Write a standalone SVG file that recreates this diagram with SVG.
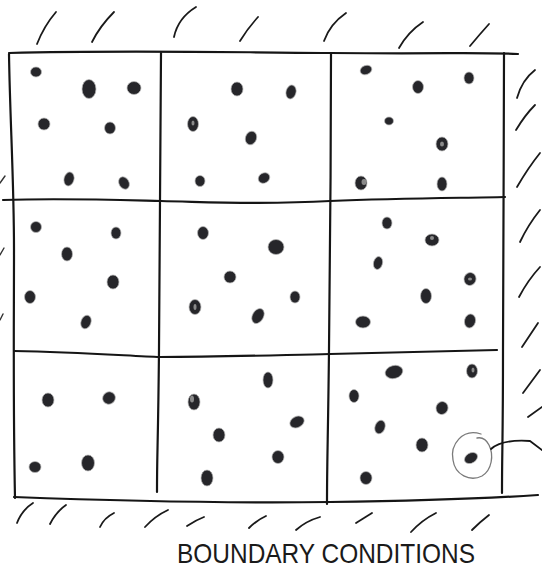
<svg xmlns="http://www.w3.org/2000/svg" width="542" height="568" viewBox="0 0 542 568">
<style>
.ln{fill:none;stroke:#151515;stroke-width:2.2;stroke-linecap:round;stroke-linejoin:round}
.h{fill:none;stroke:#1a1a1a;stroke-width:1.8;stroke-linecap:round}
.hl{fill:none;stroke:#333;stroke-width:1.4;stroke-linecap:round}
.p{fill:#26262a;stroke:#b8b8b8;stroke-width:1;stroke-opacity:.7}
.w{fill:#8a8a8a}
.pen{fill:none;stroke:#7a7a7a;stroke-width:1.3;stroke-linecap:round}
.lbl{font-family:"Liberation Sans",Arial,sans-serif;font-size:28px;fill:#1a1a1a}
</style>
<rect width="542" height="568" fill="#ffffff"/>
<g id="grid">
<path class="ln" d="M9,53 C120,50 200,52 330,53 S470,52 518,54"/>
<path class="ln" d="M9,54 C10,120 14,180 14,250 S13,400 15,498"/>
<path class="ln" d="M3,200 C60,198 120,200 161,201 C210,202 260,205 330,201 C400,198 460,198 505,197"/>
<path class="ln" d="M14,351 C80,352 130,356 160,357 C220,357 280,355 330,354 C400,352 460,351 497,350"/>
<path class="ln" d="M161,53 C161,150 160,250 159,350 S157,450 157,492"/>
<path class="ln" d="M331,54 C331,150 330,260 329,350 S327,460 327,504"/>
<path class="ln" d="M504,53 C504,150 503,260 503,350 S502,450 502,493"/>
<path class="ln" d="M14,497 C120,501 250,503 330,502 S480,499 538,495"/>
</g>
<g id="boundary-hatching">
<path class="h" d="M37,44 Q44,26 56,12"/>
<path class="h" d="M92,42 Q100,26 114,12"/>
<path class="h" d="M174,37 Q178,18 196,7"/>
<path class="h" d="M240,41 Q248,28 258,17"/>
<path class="h" d="M324,41 Q330,24 346,13"/>
<path class="h" d="M399,48 Q408,32 423,22"/>
<path class="h" d="M470,46 Q480,34 489,24"/>
<path class="h" d="M517,98 Q522,80 535,70"/>
<path class="h" d="M516,130 Q525,115 535,105"/>
<path class="h" d="M517,187 Q528,168 540,153"/>
<path class="h" d="M520,242 Q528,225 540,210"/>
<path class="h" d="M519,297 Q528,280 540,267"/>
<path class="h" d="M522,347 L538,323"/>
<path class="h" d="M523,393 L540,370"/>
<path class="h" d="M528,417 L542,407"/>
<path class="hl" d="M0,183 L5,176"/>
<path class="hl" d="M0,255 L4,248"/>
<path class="hl" d="M0,320 L3,314"/>
<path class="h" d="M17,523 Q22,510 33,503"/>
<path class="h" d="M50,524 Q56,512 66,505"/>
<path class="h" d="M100,527 Q104,518 114,513"/>
<path class="h" d="M145,527 Q155,516 168,510"/>
<path class="h" d="M187,526 Q196,520 204,517"/>
<path class="h" d="M249,528 Q257,520 266,516"/>
<path class="h" d="M296,530 Q306,521 320,517"/>
<path class="h" d="M356,523 L372,513"/>
<path class="h" d="M411,532 Q422,520 436,513"/>
<path class="h" d="M472,530 Q480,522 489,515"/>
</g>
<g id="particles">
<ellipse class="p" cx="36" cy="72" rx="5.5" ry="5"/>
<ellipse class="p" cx="89" cy="89" rx="7" ry="9.5"/>
<ellipse class="p" cx="134" cy="88" rx="7" ry="6.5"/>
<ellipse class="p" cx="44" cy="124" rx="6" ry="6"/>
<ellipse class="p" cx="110" cy="128" rx="5.5" ry="6"/>
<ellipse class="p" cx="69" cy="179" rx="5" ry="7" transform="rotate(15 69 179)"/>
<ellipse class="p" cx="124" cy="183" rx="5" ry="6.5" transform="rotate(-30 124 183)"/>
<ellipse class="p" cx="237" cy="89" rx="6" ry="7"/>
<ellipse class="p" cx="291" cy="92" rx="5" ry="7" transform="rotate(15 291 92)"/>
<ellipse class="p" cx="193" cy="124" rx="5.5" ry="7.5"/>
<ellipse class="w" cx="193" cy="123" rx="1.5" ry="2.5"/>
<ellipse class="p" cx="251" cy="138" rx="5.5" ry="7" transform="rotate(20 251 138)"/>
<ellipse class="p" cx="200" cy="181" rx="5" ry="5.5"/>
<ellipse class="p" cx="264" cy="178" rx="6" ry="5" transform="rotate(-30 264 178)"/>
<ellipse class="p" cx="366" cy="70" rx="6" ry="4.5" transform="rotate(-20 366 70)"/>
<ellipse class="p" cx="418" cy="87" rx="5.5" ry="6.5"/>
<ellipse class="p" cx="469" cy="78" rx="5" ry="6"/>
<ellipse class="p" cx="389" cy="121" rx="4.5" ry="4"/>
<ellipse class="p" cx="442" cy="144" rx="6" ry="7"/>
<ellipse class="w" cx="442" cy="144" rx="2" ry="2.5"/>
<ellipse class="p" cx="361" cy="183" rx="6" ry="7"/>
<ellipse class="w" cx="364" cy="182" rx="2.5" ry="3"/>
<ellipse class="p" cx="442" cy="184" rx="5" ry="7"/>
<ellipse class="p" cx="36" cy="227" rx="5.5" ry="5.5"/>
<ellipse class="p" cx="116" cy="233" rx="5" ry="6"/>
<ellipse class="p" cx="67" cy="254" rx="5.5" ry="7"/>
<ellipse class="p" cx="113" cy="282" rx="6" ry="7"/>
<ellipse class="p" cx="30" cy="297" rx="5.5" ry="6.5"/>
<ellipse class="p" cx="86" cy="322" rx="5" ry="7" transform="rotate(20 86 322)"/>
<ellipse class="p" cx="203" cy="233" rx="5.5" ry="6.5"/>
<ellipse class="p" cx="276" cy="247" rx="8" ry="7.5"/>
<ellipse class="p" cx="230" cy="277" rx="6" ry="6"/>
<ellipse class="p" cx="295" cy="297" rx="5" ry="6"/>
<ellipse class="p" cx="195" cy="307" rx="6" ry="7.5"/>
<ellipse class="w" cx="195" cy="307" rx="1.5" ry="3"/>
<ellipse class="p" cx="258" cy="316" rx="5.5" ry="8" transform="rotate(30 258 316)"/>
<ellipse class="p" cx="387" cy="223" rx="5" ry="6"/>
<ellipse class="p" cx="432" cy="240" rx="7" ry="6"/>
<ellipse class="w" cx="432" cy="238" rx="2" ry="2"/>
<ellipse class="p" cx="378" cy="263" rx="4.5" ry="6.5" transform="rotate(15 378 263)"/>
<ellipse class="p" cx="470" cy="279" rx="6" ry="6.5" transform="rotate(20 470 279)"/>
<ellipse class="w" cx="470" cy="279" rx="2" ry="1.5"/>
<ellipse class="p" cx="426" cy="296" rx="5.5" ry="7.5"/>
<ellipse class="p" cx="363" cy="322" rx="7.5" ry="6"/>
<ellipse class="p" cx="470" cy="321" rx="5.5" ry="7" transform="rotate(15 470 321)"/>
<ellipse class="p" cx="48" cy="400" rx="6" ry="7"/>
<ellipse class="p" cx="109" cy="398" rx="6.5" ry="6" transform="rotate(-30 109 398)"/>
<ellipse class="p" cx="35" cy="467" rx="6" ry="5.5"/>
<ellipse class="p" cx="88" cy="463" rx="6.5" ry="8"/>
<ellipse class="p" cx="268" cy="380" rx="5" ry="8"/>
<ellipse class="p" cx="194" cy="402" rx="6" ry="8"/>
<ellipse class="w" cx="192" cy="399" rx="2" ry="3.5"/>
<ellipse class="p" cx="297" cy="422" rx="7.5" ry="5.5" transform="rotate(-25 297 422)"/>
<ellipse class="p" cx="219" cy="435" rx="6" ry="7"/>
<ellipse class="p" cx="278" cy="457" rx="6" ry="6.5"/>
<ellipse class="p" cx="207" cy="478" rx="6" ry="8"/>
<ellipse class="p" cx="394" cy="372" rx="9" ry="6.5" transform="rotate(-15 394 372)"/>
<ellipse class="p" cx="472" cy="371" rx="5.5" ry="7"/>
<ellipse class="w" cx="473" cy="370" rx="1.5" ry="2.5"/>
<ellipse class="p" cx="354" cy="396" rx="5" ry="6.5"/>
<ellipse class="p" cx="442" cy="408" rx="6" ry="6.5" transform="rotate(20 442 408)"/>
<ellipse class="p" cx="380" cy="427" rx="5" ry="7" transform="rotate(20 380 427)"/>
<ellipse class="p" cx="422" cy="445" rx="6" ry="7"/>
<ellipse class="p" cx="471" cy="458" rx="7" ry="5" transform="rotate(-30 471 458)"/>
<ellipse class="p" cx="366" cy="478" rx="6" ry="6.5"/>
</g>
<g id="annotation">
<path class="pen" d="M481,434 C462,428 450,445 453,460 C455,475 470,482 482,476 C492,470 494,455 489,445 C486,439 482,437 477,438"/>
<path class="ln" style="stroke-width:1.8" d="M491,449 C500,441 515,440 530,441 L542,450"/>
</g>
<g id="label">
<text class="lbl" x="177" y="563" textLength="298" lengthAdjust="spacingAndGlyphs">BOUNDARY CONDITIONS</text>
</g>
</svg>
